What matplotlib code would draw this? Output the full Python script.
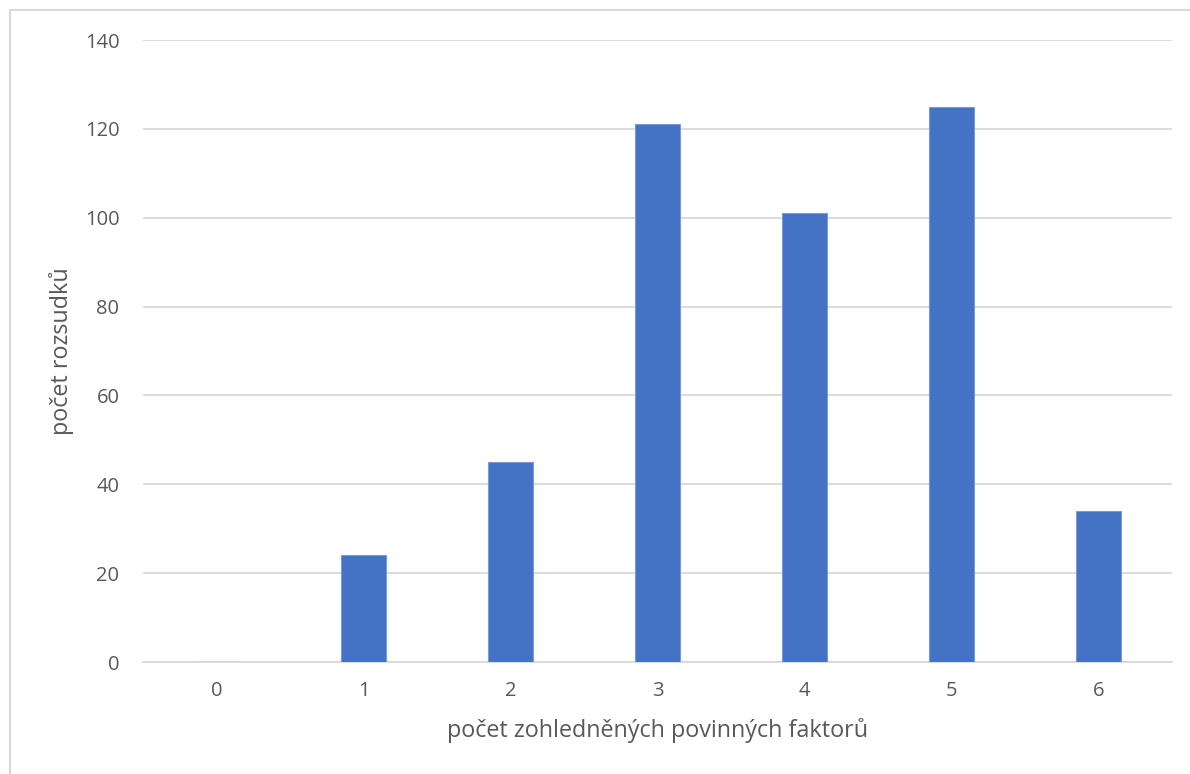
import matplotlib
matplotlib.use("Agg")
import matplotlib.pyplot as plt
from matplotlib.patches import Rectangle

categories = ["0", "1", "2", "3", "4", "5", "6"]
counts = [0, 24, 45, 121, 101, 125, 34]
y_ticks = [0, 20, 40, 60, 80, 100, 120, 140]

plt.rcParams["font.family"] = ["Open Sans", "DejaVu Sans"]
text_color = "#595959"
grid_color = "#d9d9d9"
bar_color = "#4472C4"

W, H = 1190, 774
fig = plt.figure(figsize=(W / 100, H / 100), dpi=100)
ax = fig.add_axes([143 / W, (H - 662) / H, (1172 - 143) / W, (662 - 40) / H])

x = list(range(len(categories)))
ax.bar(x, counts, width=0.31, color=bar_color, edgecolor="#7a9bd6", linewidth=0.8, zorder=3)

ax.set_xlim(-0.5, len(categories) - 0.5)
ax.set_ylim(0, 140)
ax.set_yticks(y_ticks)
ax.set_xticks(x)
ax.set_xticklabels(categories)
ax.yaxis.grid(True, color=grid_color, linewidth=1.3, zorder=0)
ax.set_axisbelow(True)
for side in ["top", "right", "left"]:
    ax.spines[side].set_visible(False)
ax.spines["bottom"].set_color(grid_color)
ax.spines["bottom"].set_linewidth(1.3)
ax.tick_params(axis="both", length=0, labelsize=14.5, colors=text_color)
ax.tick_params(axis="y", pad=17)
ax.tick_params(axis="x", pad=14)

ax.set_xlabel("počet zohledněných povinných faktorů", fontsize=16.8, color=text_color, labelpad=12)
ax.set_ylabel("počet rozsudků", fontsize=16.8, color=text_color, labelpad=8)

# outer chart border
fig.patches.append(Rectangle((10 / W, -0.1), 1.2, (H - 10) / H + 0.1, transform=fig.transFigure,
                             fill=False, edgecolor="#d9d9d9", linewidth=1.5))

fig.savefig("out.png", dpi=100, facecolor="white")
